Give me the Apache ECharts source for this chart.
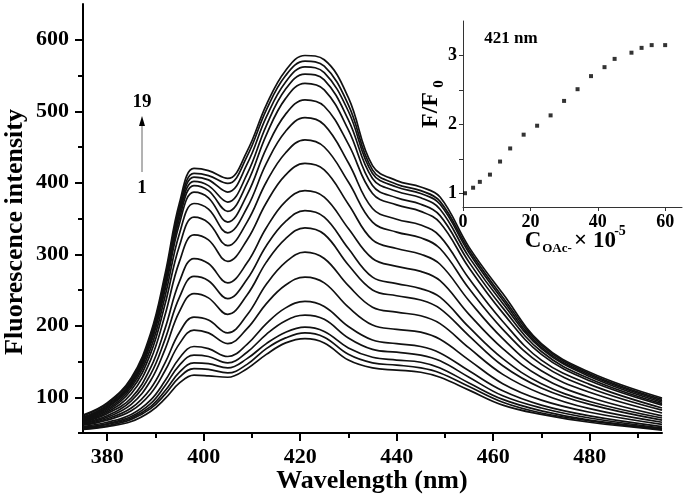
<!DOCTYPE html>
<html>
<head>
<meta charset="utf-8">
<script src="https://cdn.jsdelivr.net/npm/echarts@6/dist/echarts.min.js"></script>
<style>
  html, body { margin: 0; padding: 0; background: #fff; }
  #chart { width: 685px; height: 498px; }
</style>
</head>
<body>
<div id="chart"></div>
<script>
// wavelengths (nm) at which the spectra were read
const wavelengths = [375, 380, 385, 389, 392, 395, 398, 401, 405, 409, 413, 417, 421, 425, 430, 435, 440, 445, 449, 455, 462, 470, 480, 495];

// spectra 1 .. 19 (fluorescence intensity)
const spectra = [
  [55, 59, 66, 80, 98, 120, 131, 130, 128, 140, 160, 176, 182, 176, 152, 141, 138, 135, 128, 110, 89, 76, 65, 54],
  [56, 60, 69, 84, 104, 128, 140, 139, 134, 146, 168, 183, 190, 184, 160, 148, 145, 141, 134, 115, 93, 78, 67, 55],
  [57, 62, 71, 87, 109, 135, 148, 147, 141, 154, 175, 191, 198, 192, 169, 156, 152, 149, 141, 120, 97, 81, 68, 56],
  [58, 63, 73, 91, 116, 145, 159, 157, 148, 163, 188, 207, 215, 209, 183, 167, 163, 159, 151, 128, 102, 85, 71, 57],
  [59, 65, 76, 96, 123, 155, 171, 168, 157, 174, 203, 225, 234, 227, 199, 180, 175, 171, 162, 137, 109, 89, 74, 59],
  [61, 68, 81, 105, 137, 175, 194, 190, 175, 196, 231, 257, 268, 260, 226, 201, 195, 191, 181, 152, 119, 96, 79, 62],
  [62, 70, 85, 112, 148, 191, 212, 208, 190, 215, 258, 289, 303, 294, 256, 226, 219, 214, 203, 169, 132, 105, 84, 65],
  [63, 72, 90, 123, 167, 220, 245, 239, 216, 243, 289, 322, 337, 328, 285, 250, 242, 236, 224, 186, 144, 113, 90, 68],
  [64, 74, 95, 132, 181, 240, 269, 263, 238, 265, 312, 346, 361, 352, 308, 268, 259, 252, 240, 198, 154, 119, 94, 71],
  [65, 77, 99, 141, 196, 262, 294, 287, 260, 288, 337, 374, 389, 380, 336, 294, 283, 276, 263, 216, 168, 128, 100, 74],
  [66, 79, 105, 152, 215, 290, 327, 320, 290, 320, 372, 411, 427, 418, 370, 320, 308, 300, 286, 235, 182, 137, 107, 78],
  [67, 81, 110, 161, 230, 312, 352, 344, 312, 345, 401, 442, 460, 450, 401, 345, 331, 323, 308, 252, 195, 146, 113, 82],
  [68, 83, 114, 168, 241, 329, 371, 363, 330, 365, 427, 472, 491, 481, 428, 364, 349, 341, 325, 266, 206, 152, 118, 85],
  [69, 85, 117, 174, 250, 343, 387, 379, 345, 383, 448, 496, 516, 507, 454, 385, 369, 360, 344, 281, 218, 160, 123, 89],
  [70, 86, 119, 178, 256, 350, 396, 389, 360, 399, 467, 518, 539, 530, 474, 396, 379, 370, 354, 289, 225, 164, 126, 91],
  [71, 88, 121, 180, 260, 356, 402, 396, 373, 412, 480, 531, 552, 544, 488, 406, 388, 379, 363, 296, 231, 168, 129, 93],
  [72, 89, 122, 183, 264, 361, 408, 404, 387, 426, 492, 541, 562, 554, 500, 413, 394, 385, 370, 302, 236, 170, 131, 95],
  [74, 91, 125, 186, 267, 366, 413, 410, 399, 437, 502, 550, 570, 563, 509, 418, 398, 389, 374, 306, 240, 173, 133, 97],
  [75, 92, 127, 189, 272, 372, 420, 417, 406, 444, 509, 557, 578, 572, 519, 424, 403, 394, 380, 310, 245, 175, 135, 99]
];

const xTicks = [380, 400, 420, 440, 460, 480];
const xMinorTicks = [390, 410, 430, 450, 470, 490];
const yTicks = [100, 200, 300, 400, 500, 600];
const yMinorTicks = [50, 150, 250, 350, 450, 550];

// inset: F/F0 at 421 nm vs acetate concentration (x 10^-5)
const concentration = [0.6, 3, 5, 8, 11, 14, 18, 22, 26, 30, 34, 38, 42, 45, 50, 53, 56, 60];
const ratioF = [1.0, 1.08, 1.165, 1.27, 1.46, 1.65, 1.85, 1.98, 2.13, 2.34, 2.51, 2.70, 2.83, 2.95, 3.04, 3.11, 3.15, 3.15];
const insetYTicks = [1, 2, 3];
const insetYAllTicks = [1, 1.5, 2, 2.5, 3];

const SERIF = '"Liberation Serif", "Times New Roman", serif';
const chart = echarts.init(document.getElementById('chart'), null, { renderer: 'canvas' });

const lineSeries = spectra.map((s, i) => ({
  name: 'c' + (i + 1),
  type: 'line',
  xAxisIndex: 0,
  yAxisIndex: 0,
  data: wavelengths.map((w, j) => [w, s[j]]),
  showSymbol: false,
  smooth: 0.4,
  lineStyle: { color: '#111', width: 1.7 },
  z: 2
}));

const txt = (text, x, y, size, extra) => Object.assign({
  type: 'text', x: x, y: y, silent: true,
  style: {
    text: text, fill: '#000',
    font: 'bold ' + size + 'px ' + SERIF,
    align: 'center', verticalAlign: 'middle',
    textAlign: 'center', textVerticalAlign: 'middle'
  }
}, extra || {});

const option = {
  animation: false,
  backgroundColor: '#fff',
  grid: [
    { left: 83, top: 4, width: 579, height: 429 },
    { left: 463, top: 21, width: 219, height: 186 }
  ],
  xAxis: [
    {
      type: 'value', gridIndex: 0, min: 375, max: 495, position: 'bottom',
      axisLine: { lineStyle: { color: '#000', width: 2 } },
      axisTick: { customValues: xTicks, length: 8, lineStyle: { color: '#000', width: 2 } },
      axisLabel: { customValues: xTicks, margin: 13, color: '#000', fontFamily: SERIF, fontWeight: 'bold', fontSize: 22 },
      splitLine: { show: false }
    },
    {
      type: 'value', gridIndex: 0, min: 375, max: 495, position: 'bottom',
      axisLine: { show: false },
      axisTick: { customValues: xMinorTicks, length: 5, lineStyle: { color: '#000', width: 2 } },
      axisLabel: { show: false },
      splitLine: { show: false }
    },
    {
      type: 'value', gridIndex: 1, min: 0, max: 65, interval: 20, position: 'bottom',
      axisLine: { lineStyle: { color: '#333', width: 1 } },
      axisTick: { length: 4, lineStyle: { color: '#333', width: 1 } },
      axisLabel: { margin: 6, color: '#000', fontFamily: SERIF, fontWeight: 'bold', fontSize: 18 },
      splitLine: { show: false }
    }
  ],
  yAxis: [
    {
      type: 'value', gridIndex: 0, min: 50, max: 650, position: 'left',
      axisLine: { show: true, lineStyle: { color: '#000', width: 2 } },
      axisTick: { show: true, customValues: yTicks, length: 8, lineStyle: { color: '#000', width: 2 } },
      axisLabel: { customValues: yTicks, margin: 14, color: '#000', fontFamily: SERIF, fontWeight: 'bold', fontSize: 22 },
      splitLine: { show: false }
    },
    {
      type: 'value', gridIndex: 0, min: 50, max: 650, position: 'left',
      axisLine: { show: false },
      axisTick: { show: true, customValues: yMinorTicks, length: 5, lineStyle: { color: '#000', width: 2 } },
      axisLabel: { show: false },
      splitLine: { show: false }
    },
    {
      type: 'value', gridIndex: 1, min: 0.8, max: 3.5, position: 'left',
      axisLine: { show: true, lineStyle: { color: '#333', width: 1 } },
      axisTick: { show: true, customValues: insetYAllTicks, length: 4, lineStyle: { color: '#333', width: 1 } },
      axisLabel: { customValues: insetYTicks, margin: 6, color: '#000', fontFamily: SERIF, fontWeight: 'bold', fontSize: 18 },
      splitLine: { show: false }
    }
  ],
  series: lineSeries.concat([{
    type: 'scatter',
    xAxisIndex: 2,
    yAxisIndex: 2,
    data: concentration.map((c, i) => [c, ratioF[i]]),
    symbol: 'rect',
    symbolSize: 4,
    itemStyle: { color: '#000' },
    z: 3
  }]),
  graphic: [
    txt('Fluorescence intensity', 15, 232, 26, { rotation: Math.PI / 2 }),
    txt('Wavelength (nm)', 372, 481, 26),
    // series order annotation
    txt('19', 142, 102, 19),
    txt('1', 142, 188, 19),
    { type: 'line', silent: true, shape: { x1: 142, y1: 172, x2: 142, y2: 124 }, style: { stroke: '#666', lineWidth: 1 } },
    { type: 'polygon', silent: true, shape: { points: [[142, 116], [139, 126], [145, 126]] }, style: { fill: '#000' } },
    // inset texts
    txt('421 nm', 511, 39, 17),
    txt('F/F', 431, 110, 24, { rotation: Math.PI / 2 }),
    txt('0', 439, 84, 15, { rotation: Math.PI / 2 }),
    txt('C', 533, 241, 23),
    txt('OAc-', 557, 249, 13),
    txt('× 10', 595, 241, 23),
    txt('-5', 620, 231, 14)
  ]
};

chart.setOption(option);
</script>
</body>
</html>
